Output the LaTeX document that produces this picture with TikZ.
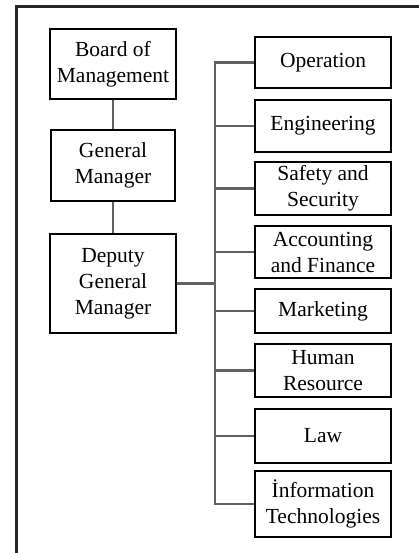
\documentclass[tikz,border=0pt]{standalone}
\usepackage{fontspec}
\setmainfont{Liberation Serif}
\begin{document}
\begin{tikzpicture}[x=1pt,y=-1pt,
  box/.style={draw=black, line width=1.5pt, fill=white, align=center, inner sep=0pt,
    font=\fontsize{21.5}{26}\selectfont},
  conn/.style={draw=black!62, line width=2.2pt},
  frame/.style={draw=black!85, line width=3pt}]
\useasboundingbox (0,0) rectangle (419,553);
% outer frame (left and top edges)
\draw[frame] (16,553) -- (16,7) -- (419,7);
% management chain
\node[box, minimum width=126pt, minimum height=70pt] (board) at (113,64) {Board of\\Management};
\node[box, minimum width=124pt, minimum height=71pt] (gm) at (113,165.5) {General\\Manager};
\node[box, minimum width=126pt, minimum height=99pt] (deputy) at (113,283.5) {Deputy\\General\\Manager};
% departments
\node[box, minimum width=136pt, minimum height=51pt] (op) at (323,62.5) {Operation};
\node[box, minimum width=136pt, minimum height=52pt] (eng) at (323,126) {Engineering};
\node[box, minimum width=136pt, minimum height=53pt] (safe) at (323,188.5) {Safety and\\Security};
\node[box, minimum width=136pt, minimum height=52pt] (acc) at (323,252) {Accounting\\and Finance};
\node[box, minimum width=136pt, minimum height=44pt] (mkt) at (323,311) {Marketing};
\node[box, minimum width=136pt, minimum height=53pt] (hr) at (323,370.5) {Human\\Resource};
\node[box, minimum width=136pt, minimum height=54pt] (law) at (323,436) {Law};
\node[box, minimum width=136pt, minimum height=66pt] (it) at (323,504) {İnformation\\Technologies};
% bus line
\coordinate (bus) at (215,0);
\draw[conn] (board) -- (gm);
\draw[conn] (gm) -- (deputy);
\draw[conn] (deputy.east) -- (deputy.east -| bus);
\draw[conn, line cap=rect] (op.west -| bus) -- (it.west -| bus);
\foreach \n in {op,eng,safe,acc,mkt,hr,law,it}
  \draw[conn] (\n.west -| bus) -- (\n.west);
\end{tikzpicture}
\end{document}
